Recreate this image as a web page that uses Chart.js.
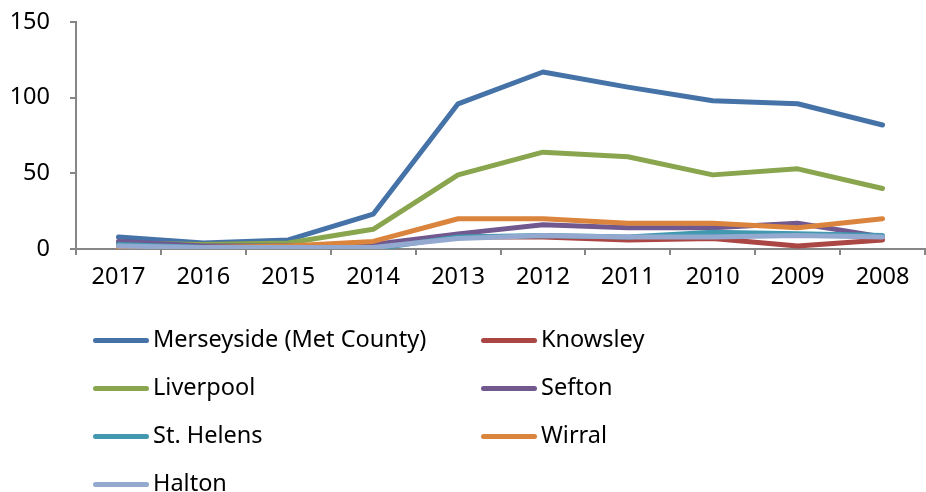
<!DOCTYPE html>
<html>
<head>
<meta charset="utf-8">
<script src="https://cdn.jsdelivr.net/npm/chart.js@4.4.0/dist/chart.umd.min.js"></script>
<style>
  html, body { margin: 0; padding: 0; background: #fff; overflow: hidden; }
  #wrap { position: relative; width: 926px; height: 492px; overflow: hidden; }
  #chart-box { position: absolute; left: 0; top: -12px; width: 926px; height: 317px; }
  #legend { position: absolute; left: 0; top: 0; width: 926px; height: 492px; pointer-events: none;
            font-family: "Noto Sans", sans-serif; font-size: 23.5px; color: #000; }
  .item { position: absolute; height: 24px; line-height: 24px; white-space: nowrap; }
  .item span.swatch { position: absolute; left: 0; top: 10px; width: 56px; height: 5px; border-radius: 3px; }
  .item span.label { position: absolute; left: 60px; top: -2px; }
</style>
</head>
<body>
<div id="wrap">
  <div id="chart-box"><canvas id="myChart"></canvas></div>
  <div id="legend"></div>
</div>
<script>

// Data

const years = ['2017', '2016', '2015', '2014', '2013', '2012', '2011', '2010', '2009', '2008'];

const merseyside = [8, 4, 6, 23, 96, 117, 107, 98, 96, 82];
const knowsley   = [2, 1, 1, 1, 8, 8, 6, 7, 2, 6];
const liverpool  = [4, 3, 4, 13, 49, 64, 61, 49, 53, 40];
const sefton     = [5, 2, 2, 3, 10, 16, 14, 14, 17, 8];
const stHelens   = [3, 1, 1, 0, 8, 9, 8, 11, 10, 9];
const wirral     = [0, 1, 2, 5, 20, 20, 17, 17, 14, 20];
const halton     = [2, 1, 1, 1, 7, 9, 8, 8, 9, 8];

const yTicks = [0, 50, 100, 150];

const seriesNames  = ['Merseyside (Met County)', 'Knowsley', 'Liverpool', 'Sefton', 'St. Helens', 'Wirral', 'Halton'];
const seriesData   = [merseyside, knowsley, liverpool, sefton, stHelens, wirral, halton];
const seriesColors = ['#4572A7', '#AA4643', '#89A54E', '#71588F', '#4198AF', '#DB843D', '#93A9CF'];

// Chart.js Setting

const axisColor = '#868686';
const tickFont = { family: 'Noto Sans', size: 23.5 };
const ctx = document.getElementById('myChart');

const datasets = seriesNames.map((name, i) => ({
    label: name,
    data: seriesData[i],
    borderColor: seriesColors[i],
    backgroundColor: seriesColors[i],
    borderWidth: 5,
    pointRadius: 0,
    tension: 0,
    borderCapStyle: 'round',
    borderJoinStyle: 'round',
    order: seriesNames.length - i
}));

const myChart = new Chart(ctx, {
    type: 'line',
    data: {
        labels: years,
        datasets: datasets
    },
    options: {
        responsive: true,
        maintainAspectRatio: false,
        animation: false,
        layout: {
            padding: { top: 0, right: 1, left: 0, bottom: 0 }
        },
        plugins: {
            legend: { display: false },
            tooltip: { enabled: false }
        },
        scales: {
            x: {
                offset: true,
                afterFit: axis => {
                    axis.height = 56;
                },
                grid: {
                    offset: true,
                    drawOnChartArea: false,
                    drawTicks: true,
                    tickLength: 6,
                    color: axisColor,
                    lineWidth: 2
                },
                border: { color: axisColor, width: 2 },
                ticks: {
                    color: '#000',
                    padding: 8,
                    font: tickFont,
                    maxRotation: 0
                }
            },
            y: {
                min: 0,
                max: 150,
                afterBuildTicks: axis => {
                    axis.ticks = yTicks.map(v => ({ value: v }));
                },
                afterFit: axis => {
                    axis.width = 76;
                },
                grid: {
                    drawOnChartArea: false,
                    drawTicks: true,
                    tickLength: 6,
                    color: axisColor,
                    lineWidth: 2
                },
                border: { color: axisColor, width: 2 },
                ticks: {
                    color: '#000',
                    padding: 20,
                    font: tickFont
                }
            }
        }
    }
});

// legend (two columns, like the original)
const legendBox = document.getElementById('legend');
const colX = [93, 481];
const rowY = [328, 376, 424, 472];
seriesNames.forEach((name, i) => {
    const item = document.createElement('div');
    item.className = 'item';
    item.style.left = colX[i % 2] + 'px';
    item.style.top = rowY[Math.floor(i / 2)] + 'px';
    item.innerHTML = '<span class="swatch" style="background:' + seriesColors[i] + '"></span>' +
                     '<span class="label">' + name + '</span>';
    legendBox.appendChild(item);
});

</script>
</body>
</html>
